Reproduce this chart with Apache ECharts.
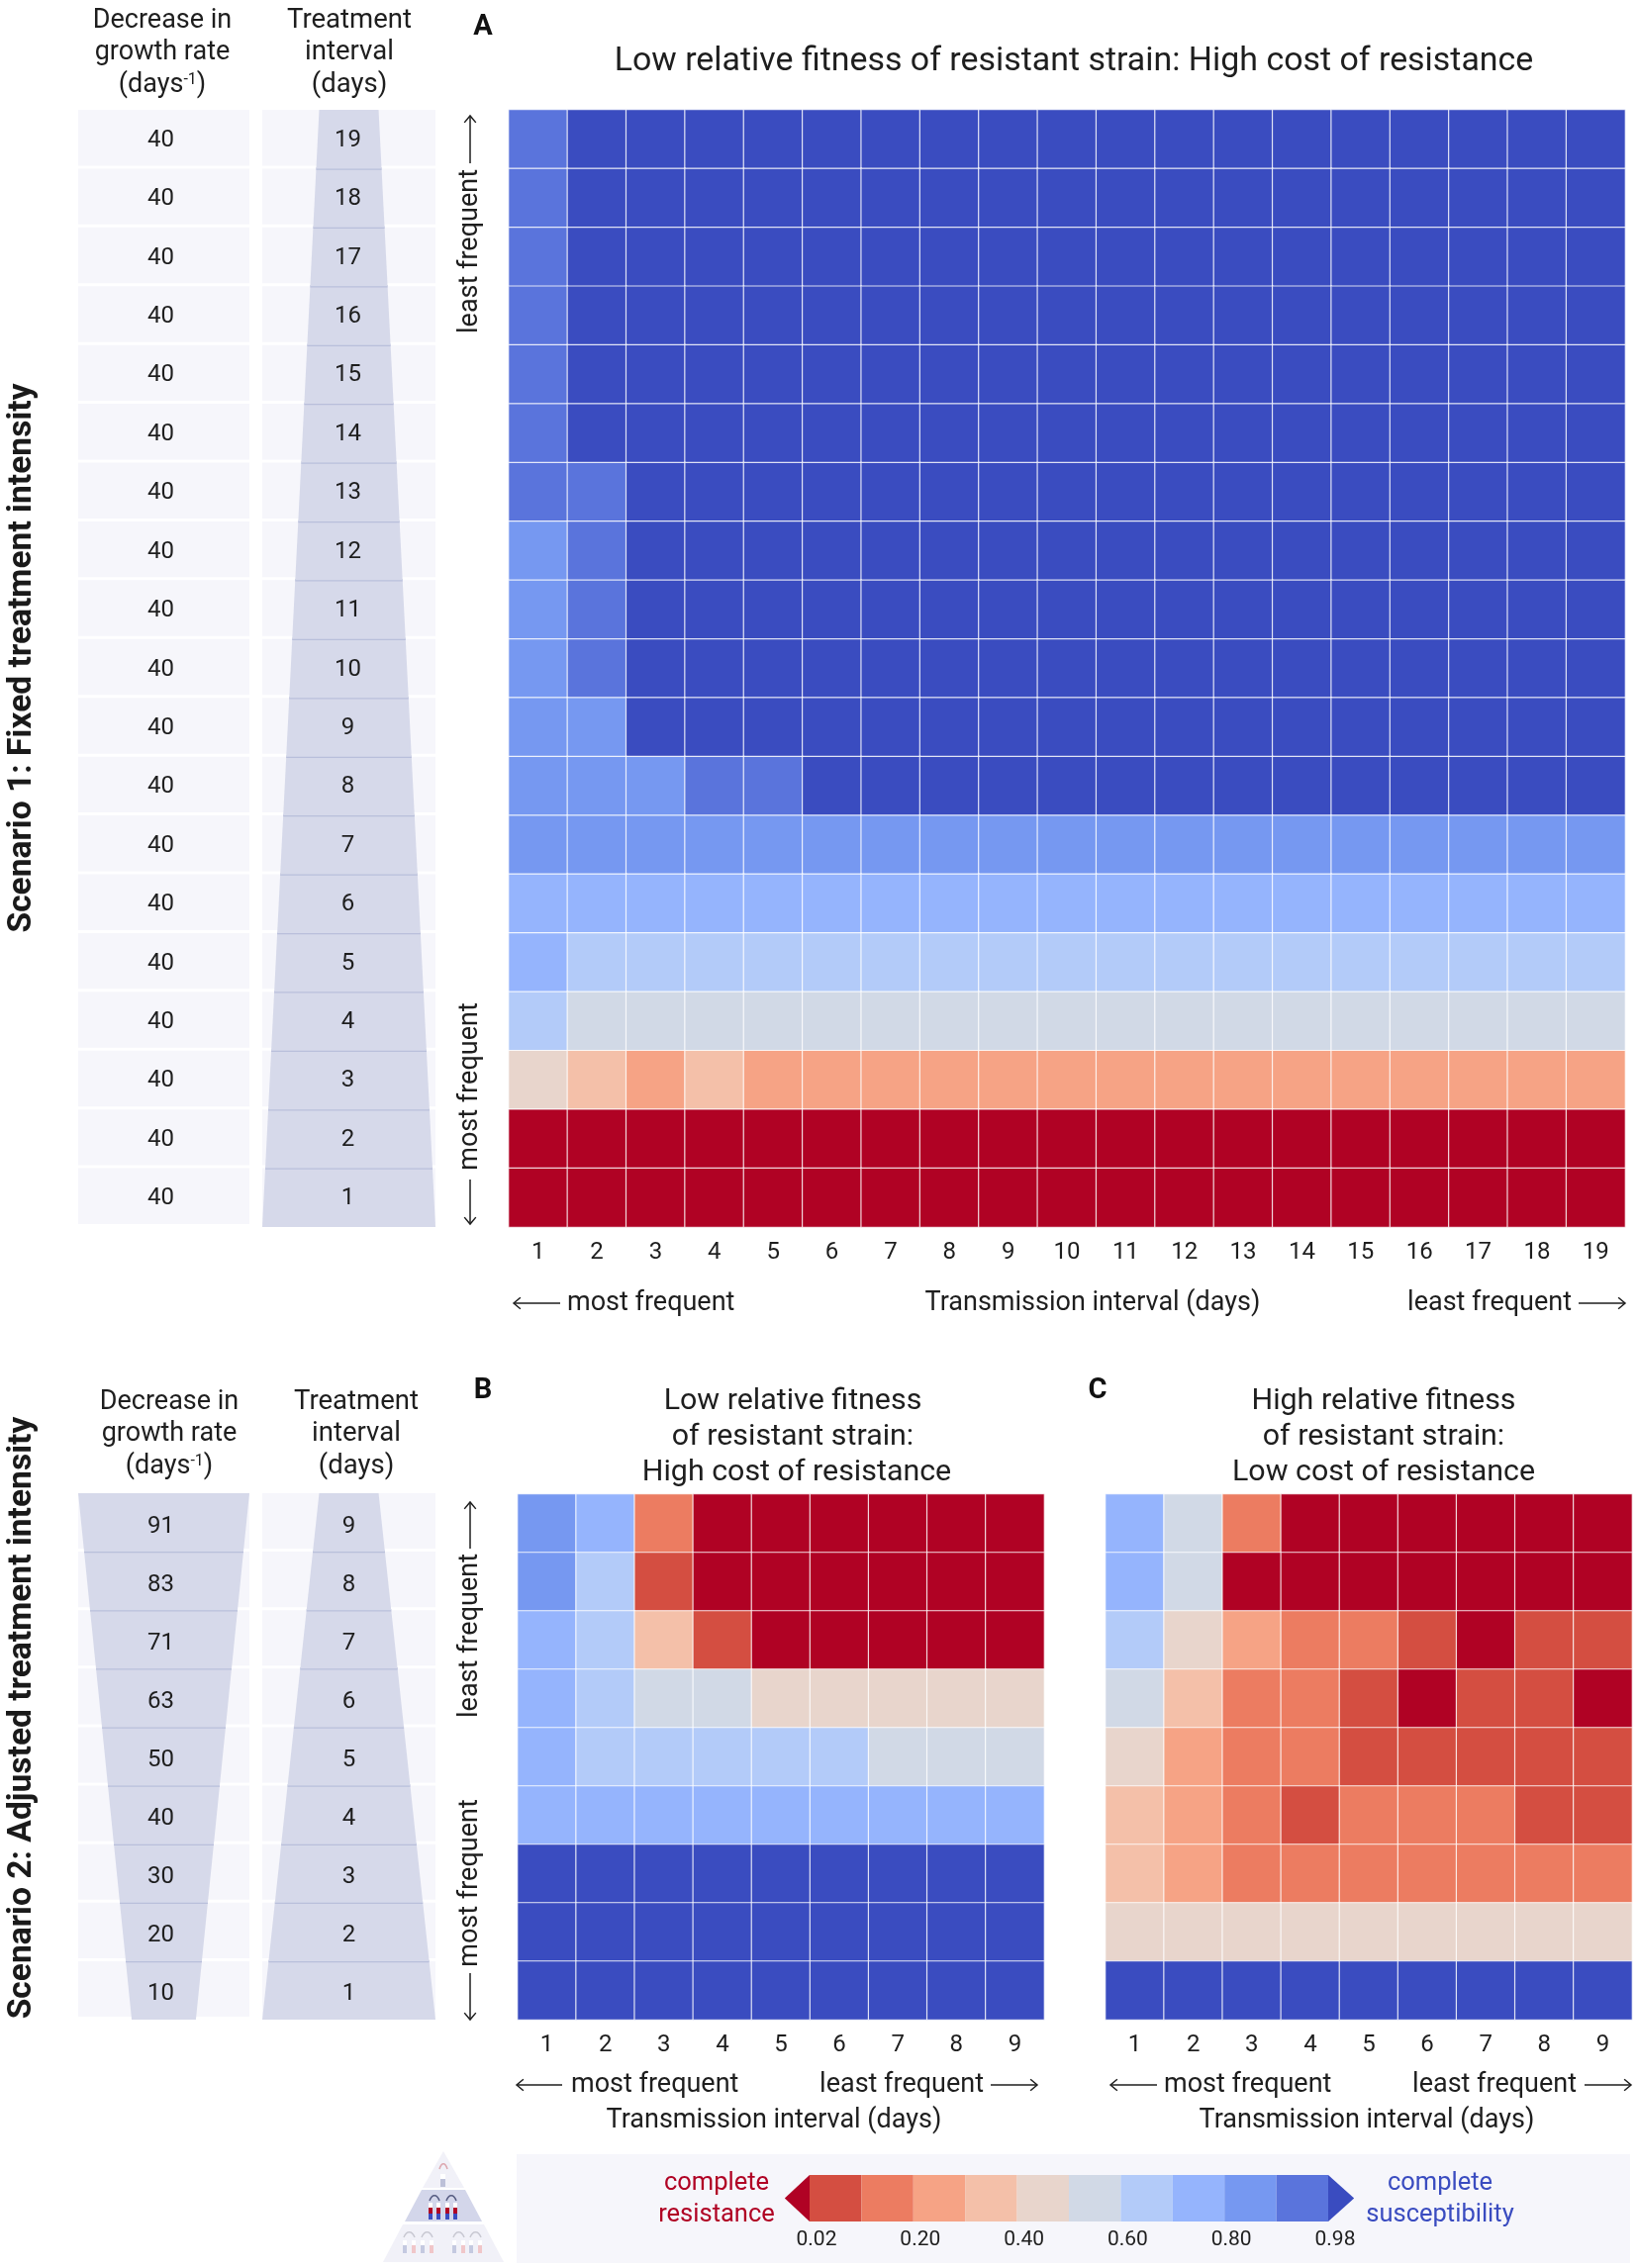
<!DOCTYPE html>
<html>
<head>
<meta charset="utf-8">
<style>html,body{margin:0;padding:0;background:#fff}#chart{width:1654px;height:2292px}</style>
<script src="https://cdn.jsdelivr.net/npm/echarts@6/dist/echarts.min.js"></script>
</head>
<body>
<div id="chart"></div>
<script>
// ---------- data (bin mid-points, top row first) ----------
const intervals19 = [1,2,3,4,5,6,7,8,9,10,11,12,13,14,15,16,17,18,19];
const intervals9 = [1,2,3,4,5,6,7,8,9];
const decreaseFixed = [40,40,40,40,40,40,40,40,40,40,40,40,40,40,40,40,40,40,40];
const decreaseAdjusted = [10,20,30,40,50,63,71,83,91];

const panelA = [
 [.95,.99,.99,.99,.99,.99,.99,.99,.99,.99,.99,.99,.99,.99,.99,.99,.99,.99,.99],
 [.95,.99,.99,.99,.99,.99,.99,.99,.99,.99,.99,.99,.99,.99,.99,.99,.99,.99,.99],
 [.95,.99,.99,.99,.99,.99,.99,.99,.99,.99,.99,.99,.99,.99,.99,.99,.99,.99,.99],
 [.95,.99,.99,.99,.99,.99,.99,.99,.99,.99,.99,.99,.99,.99,.99,.99,.99,.99,.99],
 [.95,.99,.99,.99,.99,.99,.99,.99,.99,.99,.99,.99,.99,.99,.99,.99,.99,.99,.99],
 [.95,.99,.99,.99,.99,.99,.99,.99,.99,.99,.99,.99,.99,.99,.99,.99,.99,.99,.99],
 [.95,.95,.99,.99,.99,.99,.99,.99,.99,.99,.99,.99,.99,.99,.99,.99,.99,.99,.99],
 [.85,.95,.99,.99,.99,.99,.99,.99,.99,.99,.99,.99,.99,.99,.99,.99,.99,.99,.99],
 [.85,.95,.99,.99,.99,.99,.99,.99,.99,.99,.99,.99,.99,.99,.99,.99,.99,.99,.99],
 [.85,.95,.99,.99,.99,.99,.99,.99,.99,.99,.99,.99,.99,.99,.99,.99,.99,.99,.99],
 [.85,.85,.99,.99,.99,.99,.99,.99,.99,.99,.99,.99,.99,.99,.99,.99,.99,.99,.99],
 [.85,.85,.85,.95,.95,.99,.99,.99,.99,.99,.99,.99,.99,.99,.99,.99,.99,.99,.99],
 [.85,.85,.85,.85,.85,.85,.85,.85,.85,.85,.85,.85,.85,.85,.85,.85,.85,.85,.85],
 [.75,.75,.75,.75,.75,.75,.75,.75,.75,.75,.75,.75,.75,.75,.75,.75,.75,.75,.75],
 [.75,.65,.65,.65,.65,.65,.65,.65,.65,.65,.65,.65,.65,.65,.65,.65,.65,.65,.65],
 [.65,.55,.55,.55,.55,.55,.55,.55,.55,.55,.55,.55,.55,.55,.55,.55,.55,.55,.55],
 [.45,.35,.25,.35,.25,.25,.25,.25,.25,.25,.25,.25,.25,.25,.25,.25,.25,.25,.25],
 [.01,.01,.01,.01,.01,.01,.01,.01,.01,.01,.01,.01,.01,.01,.01,.01,.01,.01,.01],
 [.01,.01,.01,.01,.01,.01,.01,.01,.01,.01,.01,.01,.01,.01,.01,.01,.01,.01,.01]
];
const panelB = [
 [.85,.75,.15,.01,.01,.01,.01,.01,.01],
 [.85,.65,.05,.01,.01,.01,.01,.01,.01],
 [.75,.65,.35,.05,.01,.01,.01,.01,.01],
 [.75,.65,.55,.55,.45,.45,.45,.45,.45],
 [.75,.65,.65,.65,.65,.65,.55,.55,.55],
 [.75,.75,.75,.75,.75,.75,.75,.75,.75],
 [.99,.99,.99,.99,.99,.99,.99,.99,.99],
 [.99,.99,.99,.99,.99,.99,.99,.99,.99],
 [.99,.99,.99,.99,.99,.99,.99,.99,.99]
];
const panelC = [
 [.75,.55,.15,.01,.01,.01,.01,.01,.01],
 [.75,.55,.01,.01,.01,.01,.01,.01,.01],
 [.65,.45,.25,.15,.15,.05,.01,.05,.05],
 [.55,.35,.15,.15,.05,.01,.05,.05,.01],
 [.45,.25,.15,.15,.05,.05,.05,.05,.05],
 [.35,.25,.15,.05,.15,.15,.15,.05,.05],
 [.35,.25,.15,.15,.15,.15,.15,.15,.15],
 [.45,.45,.45,.45,.45,.45,.45,.45,.45],
 [.99,.99,.99,.99,.99,.99,.99,.99,.99]
];
const binEdges = [0,.02,.1,.2,.3,.4,.5,.6,.7,.8,.9,.98,1];
const binColors = ['#b00224','#d44e41','#ec7c61','#f6a385','#f4c0a9','#e8d5cc','#d1d9e6','#b3cbf9','#95b4fd','#7698f1','#5a74dc','#3a4cc0'];
const legendTicks = ['0.02','0.20','0.40','0.60','0.80','0.98'];

// ---------- layout ----------
const FONT = 'Roboto, sans-serif';
const INK = '#1e1e1e';
const graphics = [];
const grids = [], xAxes = [], yAxes = [], series = [];

function text(t, x, y, size, opt) {
  opt = opt || {};
  graphics.push({type:'text', x:x, y:y, rotation:opt.rot||0, silent:true, style:{
    text:t, fontFamily:opt.family||FONT, fontSize:size, fontWeight:opt.weight||'normal',
    fill:opt.color||INK, align:opt.align||'center', verticalAlign:'middle', rich:opt.rich
  }});
}
function arrow(x1,y1,x2,y2) {
  const a=Math.atan2(y2-y1,x2-x1), h=9;
  graphics.push({type:'polyline', silent:true, shape:{points:[[x1,y1],[x2,y2]]}, style:{stroke:INK,lineWidth:1.5,fill:'none'}});
  graphics.push({type:'polyline', silent:true, shape:{points:[
    [x2-h*Math.cos(a-.7),y2-h*Math.sin(a-.7)],[x2,y2],[x2-h*Math.cos(a+.7),y2-h*Math.sin(a+.7)]
  ]}, style:{stroke:INK,lineWidth:1.5,fill:'none'}});
}
function addHeat(name, rows, cats, x, y, w, h) {
  const i = grids.length;
  grids.push({left:x, top:y, width:w, height:h, containLabel:false});
  xAxes.push({gridIndex:i, type:'category', data:cats, axisLine:{show:false}, axisTick:{show:false}, splitLine:{show:false},
    axisLabel:{interval:0, fontFamily:FONT, fontSize:24, color:INK, margin:14}});
  yAxes.push({gridIndex:i, type:'category', data:cats, show:false});
  const d=[];
  rows.forEach((r,ri)=>r.forEach((v,ci)=>d.push([ci, rows.length-1-ri, v])));
  series.push({name:name, type:'heatmap', xAxisIndex:i, yAxisIndex:i, data:d, progressive:0, animation:false,
    itemStyle:{borderColor:'rgba(255,255,255,0.8)', borderWidth:1.2}, emphasis:{disabled:true}});
}
// band = fractional width [bottom row lower edge, top row upper edge], null = no band
function addTable(name, labels, x, y, w, h, band, dx, dy) {
  const i = grids.length, n = labels.length;
  grids.push({left:x, top:y, width:w, height:h});
  xAxes.push({gridIndex:i, type:'value', min:0, max:1, show:false});
  yAxes.push({gridIndex:i, type:'category', data:labels.map(String), show:false});
  series.push({name:name, type:'custom', xAxisIndex:i, yAxisIndex:i, animation:false, silent:true, clip:false,
    data:labels.map((l,k)=>[0.5,k,l]),
    renderItem:function(params,api){
      const k=api.value(1), c=api.coord([0.5,k]), s=api.size([1,1]), fw=s[0], rh=s[1];
      const top=c[1]-rh/2, bot=c[1]+rh/2, ch=[];
      ch.push({type:'rect',shape:{x:c[0]-fw/2,y:top,width:fw,height:rh-3},style:{fill:'#f6f6fb'}});
      if(band){
        const wb=(band[0]+(band[1]-band[0])*k/n)*fw/2, wt=(band[0]+(band[1]-band[0])*(k+1)/n)*fw/2;
        ch.push({type:'polygon',shape:{points:[[c[0]-wt,top],[c[0]+wt,top],[c[0]+wb,bot],[c[0]-wb,bot]]},style:{fill:'#d6d9ea'}});
        if(k<n-1) ch.push({type:'line',shape:{x1:c[0]-wt,y1:top,x2:c[0]+wt,y2:top},style:{stroke:'#b9bfdb',lineWidth:2.5}});
      }
      ch.push({type:'text',style:{text:String(labels[k]),x:c[0]+dx,y:c[1]+dy,align:'center',verticalAlign:'middle',fontFamily:FONT,fontSize:24,fill:INK}});
      return {type:'group',children:ch};
    }});
}

// ---- Scenario 1 ----
addTable('Decrease in growth rate A', decreaseFixed, 79, 111, 173, 1129, null, -3, 1);
addTable('Treatment interval A', intervals19, 265, 111, 175, 1129, [1, .343], -1, 1);
addHeat('Panel A', panelA, intervals19, 514, 111, 1128, 1129);

// ---- Scenario 2 ----
addTable('Decrease in growth rate B', decreaseAdjusted, 79, 1509, 173, 532, [.375, 1], -3, 4);
addTable('Treatment interval B', intervals9, 265, 1509, 175, 532, [1, .343], 0, 4);
addHeat('Panel B', panelB, intervals9, 523, 1510, 532, 531);
addHeat('Panel C', panelC, intervals9, 1117, 1510, 532, 531);

// ---- colour legend ----
const bins = binColors.slice(1,11).map((c,i)=>[i/10,(i+1)/10,(binEdges[i+1]+binEdges[i+2])/2]);
graphics.push({type:'rect',silent:true,z:-1,shape:{x:522,y:2177,width:1125,height:110},style:{fill:'#f6f6fb'}});
(function(){
  const i=grids.length;
  grids.push({left:818,top:2198,width:524,height:47});
  xAxes.push({gridIndex:i,type:'value',min:0,max:1,interval:.2,axisLine:{show:false},axisTick:{show:false},splitLine:{show:false},
    axisLabel:{fontFamily:FONT,fontSize:21,color:INK,margin:8,padding:[0,0,0,14],
      formatter:function(v){return legendTicks[Math.round(v*5)];}}});
  yAxes.push({gridIndex:i,type:'value',min:0,max:1,show:false});
  series.push({name:'Legend bins',type:'custom',xAxisIndex:i,yAxisIndex:i,animation:false,silent:true,clip:false,
    data:bins,
    renderItem:function(p,api){
      const a=api.coord([api.value(0),1]), b=api.coord([api.value(1),0]);
      return {type:'rect',shape:{x:a[0],y:a[1],width:b[0]-a[0],height:b[1]-a[1]},style:{fill:binColors[p.dataIndex+1]}};
    }});
  series.push({name:'Legend ends',type:'custom',xAxisIndex:i,yAxisIndex:i,animation:false,silent:true,clip:false,
    data:[[0,-.048,binColors[0]],[1,1.05,binColors[11]]],
    renderItem:function(p,api){
      const a=api.coord([api.value(0),1]), b=api.coord([api.value(0),0]), t=api.coord([api.value(1),.5]);
      return {type:'polygon',shape:{points:[a,t,b]},style:{fill:p.dataIndex?binColors[11]:binColors[0]}};
    }});
})();
text('complete', 724, 2207, 25.5, {color:'#b00224'});
text('resistance', 724, 2239, 25.5, {color:'#b00224'});
text('complete', 1455, 2207, 25.5, {color:'#3a4cc0'});
text('susceptibility', 1455, 2239, 25.5, {color:'#3a4cc0'});

// ---- pyramid icon ----
function poly(pts,fill){graphics.push({type:'polygon',silent:true,shape:{points:pts},style:{fill:fill}});}
function box(x,y,w,h,fill){graphics.push({type:'rect',silent:true,shape:{x:x,y:y,width:w,height:h},style:{fill:fill}});}
function arc(x0,x1,y,col){graphics.push({type:'bezierCurve',silent:true,shape:{x1:x0,y1:y,x2:x1,y2:y,cpx1:x0+(x1-x0)/4,cpy1:y-7,cpx2:x1-(x1-x0)/4,cpy2:y-7},style:{stroke:col,lineWidth:1.5,fill:'none'}});}
poly([[448,2174],[469,2211],[427,2211]],'#f1f1f8');
poly([[426,2213],[470,2213],[487,2245],[409,2245]],'#d3d6ea');
poly([[407,2248],[489,2248],[509,2286],[387,2286]],'#f1f1f8');
box(445,2197,5,5,'#ffffff'); box(445,2202,5,8,'#bcc0d8'); arc(444,452,2192,'#dca6ae');
[435,443,452,460].forEach((x)=>{box(x-2,2226,4,5,'#ffffff');box(x-2,2231,4,6,'#b00224');box(x-2,2237,4,6,'#3a4cc0');});
arc(434,444,2224,'#555b80'); arc(451,461,2224,'#555b80');
[409,418,427,436,459,468,476,485].forEach((x,i)=>{box(x-2,2264,4,5,'#ffffff');box(x-2,2269,4,8,i%2?'#f0c6c9':'#c4c9e0');});
arc(408,419,2261,'#c8c8d2'); arc(426,437,2261,'#c8c8d2'); arc(458,469,2261,'#c8c8d2'); arc(475,486,2261,'#c8c8d2');

// ---- scenario titles ----
text('Scenario 1: Fixed treatment intensity', 23, 665, 33.6, {rot:Math.PI/2, weight:'bold', color:'#1a1a1a'});
text('Scenario 2: Adjusted treatment intensity', 23, 1736, 33.6, {rot:Math.PI/2, weight:'bold', color:'#1a1a1a'});

// ---- panel letters & titles ----
text('A', 488, 28, 29, {weight:'bold', color:'#111'});
text('B', 488, 1406, 29, {weight:'bold', color:'#111'});
text('C', 1109, 1406, 29, {weight:'bold', color:'#111'});
text('Low relative fitness of resistant strain: High cost of resistance', 1085, 63, 33.9);
['Low relative fitness','of resistant strain:','High cost of resistance'].forEach((t,i)=>text(t, [801,801,805][i], 1416+36*i, 30.4));
['High relative fitness','of resistant strain:','Low cost of resistance'].forEach((t,i)=>text(t, 1398, 1416+36*i, 30.4));

// ---- table headers ----
const sup = {a:{fontFamily:FONT,fontSize:27,fill:INK}, s:{fontFamily:FONT,fontSize:16,fill:INK,padding:[0,0,10,0]}};
function header(cx1,cx2,y0,step){
  text('Decrease in',cx1,y0,27); text('growth rate',cx1,y0+step,27);
  text('{a|(days}{s|-1}{a|)}',cx1,y0+2*step,27,{rich:sup});
  text('Treatment',cx2,y0,27.5); text('interval',cx2,y0+step,27.5); text('(days)',cx2,y0+2*step,27.5);
}
header(164,353,21,32.5);
header(171,360,1417,32.5);

// ---- frequency annotations ----
const AXFS = 27;
function yNotes(x, yTopArrow0, yTopArrow1, yTopTxt, yBotTxt, yBotArrow0, yBotArrow1){
  arrow(x,yTopArrow1,x,yTopArrow0);
  text('least frequent',x,yTopTxt,AXFS,{rot:Math.PI/2});
  text('most frequent',x,yBotTxt,AXFS,{rot:Math.PI/2});
  arrow(x,yBotArrow0,x,yBotArrow1);
}
yNotes(475,117,165,254,1098,1192,1237);
yNotes(475,1518,1565,1653,1903,1994,2041);
function xNotes(a0,a1,t0,t1,a2,a3,y,tc,ty){
  arrow(a1,y,a0,y);
  text('most frequent',t0,y,AXFS,{align:'left'});
  text('least frequent',t1,y,AXFS,{align:'right'});
  arrow(a2,y,a3,y);
  text('Transmission interval (days)',tc,ty,AXFS);
}
xNotes(519,566,573,1588,1595,1642,1317,1104,1317);
xNotes(522,568,577,994,1001,1048,2107,782,2143);
xNotes(1122,1169,1176,1593,1601,1648,2107,1381,2143);

// ---- chart ----
const chart = echarts.init(document.getElementById('chart'), null, {renderer:'canvas'});
const pieces = binColors.map((c,i)=>({gte:binEdges[i], lt:binEdges[i+1], color:c}));
const heatIdx = series.map((s,i)=>s.type==='heatmap'?i:-1).filter(i=>i>=0);
chart.setOption({
  animation:false, backgroundColor:'#ffffff',
  grid:grids, xAxis:xAxes, yAxis:yAxes, series:series,
  visualMap:{type:'piecewise', show:false, seriesIndex:heatIdx, pieces:pieces, dimension:2},
  graphic:{elements:graphics}
});
</script>
</body>
</html>
